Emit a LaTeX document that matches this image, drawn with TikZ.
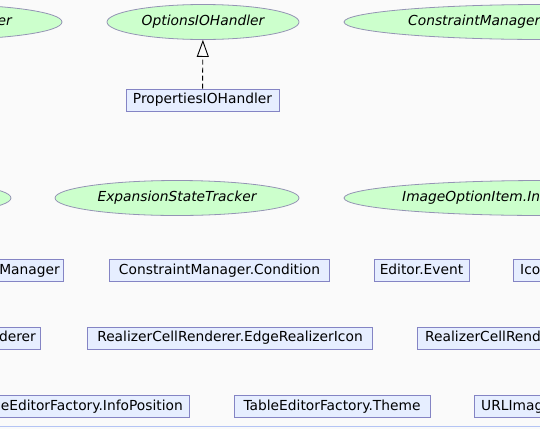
\documentclass[tikz,border=0pt]{standalone}
\usepackage{fontspec}
\setmainfont{DejaVu Sans}
\usepackage{tikz}
\usetikzlibrary{arrows.meta,shapes.geometric}
\definecolor{canvas}{HTML}{FAFAFA}
\definecolor{ifacefill}{HTML}{CCFFCC}
\definecolor{ifaceline}{HTML}{9494B4}
\definecolor{clsfill}{HTML}{E6EEFF}
\definecolor{clsline}{HTML}{8484C4}
\definecolor{frame}{HTML}{B4C4F4}

\begin{document}
\begin{tikzpicture}[x=1pt,y=-1pt,>=Latex,
  txt/.style={font=\fontsize{13.8}{16}\selectfont,text height=10pt,text depth=3pt},
  iface/.style={ellipse,draw=ifaceline,line width=0.8pt,fill=ifacefill,minimum height=35pt,inner sep=0pt,txt,font=\fontsize{13.8}{16}\selectfont\itshape},
  cls/.style={rectangle,draw=clsline,line width=0.8pt,fill=clsfill,minimum height=22pt,inner sep=0pt,txt},
  cut/.style={inner sep=0pt,txt},
  realize/.style={dashed,dash pattern=on 5pt off 3pt,line width=0.9pt,-{Triangle[open,length=17pt,width=12pt,line width=0.9pt]}}]
  \useasboundingbox (0,0) rectangle (540,429);
  \fill[canvas] (0,0) rectangle (540,429);
  \clip (0,0) rectangle (540,429);

  % interfaces
  \node[iface,minimum width=240pt] (ifl) at (-58,22) {};
  \node[cut,anchor=east,font=\fontsize{13.8}{16}\selectfont\itshape] (iflt) at (12,22) {er};
  \node[iface,minimum width=192pt] (oih) at (203,22) {OptionsIOHandler};
  \node[iface,minimum width=400pt] (cmi) at (544,22) {};
  \node[cut,anchor=west,font=\fontsize{13.8}{16}\selectfont\itshape] (cmit) at (408,22) {ConstraintManager};

  \node[iface,minimum width=240pt] (ifl2) at (-109,198) {};
  \node[iface,minimum width=244pt] (est) at (177,198) {ExpansionStateTracker};
  \node[iface,minimum width=400pt] (ioi) at (544,198) {};
  \node[cut,anchor=west,font=\fontsize{13.8}{16}\selectfont\itshape] (ioit) at (402,198) {ImageOptionItem.In};

  % classes
  \node[cls,minimum width=153pt] (pih) at (202.5,100) {PropertiesIOHandler};
  \draw[realize] (pih) -- (oih);

  \node[cls,minimum width=200pt] (cml) at (-37,270.5) {};
  \node[cut,anchor=east] (cmlt) at (60,270.5) {tManager};
  \node[cls,minimum width=220pt] (cmc) at (219.5,270.5) {ConstraintManager.Condition};
  \node[cls,minimum width=95pt] (eev) at (421.5,270.5) {Editor.Event};
  \node[cls,minimum width=150pt] (ico) at (588,270.5) {};
  \node[cut,anchor=west] (icot) at (520,270.5) {Ico};

  \node[cls,minimum width=200pt] (rcl) at (-60,338) {};
  \node[cut,anchor=east] (rclt) at (36,338) {derer};
  \node[cls,minimum width=285pt] (eri) at (230,338) {RealizerCellRenderer.EdgeRealizerIcon};
  \node[cls,minimum width=300pt] (rcr) at (567,338) {};
  \node[cut,anchor=west] (rcrt) at (425,338) {RealizerCellRend};

  \node[cls,minimum width=210pt] (tip) at (84,406.5) {};
  \node[cut,anchor=east] (tipt) at (183,406.5) {eEditorFactory.InfoPosition};
  \node[cls,minimum width=196pt] (tet) at (332,406.5) {TableEditorFactory.Theme};
  \node[cls,minimum width=300pt] (uri) at (624,406.5) {};
  \node[cut,anchor=west] (urit) at (481,406.5) {URLImag};

  % group frame
  \draw[frame,line width=1.4pt] (-10,426.5) rectangle (550,470);
\end{tikzpicture}
\end{document}
